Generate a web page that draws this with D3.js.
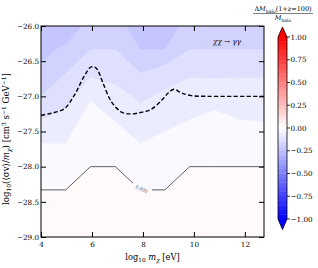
<!DOCTYPE html>
<html>
<head>
<meta charset="utf-8">
<script src="https://cdn.jsdelivr.net/npm/d3@7"></script>
<style>
  body { margin: 0; background: #fff; }
  text { font-family: "DejaVu Serif", serif; fill: #000; }
</style>
</head>
<body>
<svg id="chart" width="318" height="268"></svg>
<script>
// grid columns: log10 m_chi [eV]
const massGrid = [4, 4.97, 5.94, 6.92, 7.89, 8.86, 9.83, 10.81, 11.78, 12.75];
// grid rows: log10(<sigma v>/m_chi)
const sigmaGrid = [-29, -28.67, -28.33, -28, -27.67, -27.33, -27, -26.67, -26.33, -26];
// Delta M_halo / M_halo on the grid, one array per row (bottom row first)
const haloRatio = [
  [0.02, 0.02, 0.02, 0.02, 0.02, 0.02, 0.02, 0.02, 0.02, 0.02],
  [0.02, 0.02, 0.02, 0.02, 0.02, 0.02, 0.02, 0.02, 0.02, 0.02],
  [0, 0, 0.01, 0.01, 0, 0, 0.01, 0.01, 0.01, 0.01],
  [-0.025, -0.025, 0, 0, -0.025, -0.025, 0, 0, 0, 0],
  [-0.05, -0.05, -0.015, -0.025, -0.05, -0.04, -0.025, -0.02, -0.025, -0.025],
  [-0.1, -0.075, -0.03, -0.0525, -0.08, -0.06, -0.05, -0.04, -0.05, -0.0525],
  [-0.15, -0.125, -0.055, -0.08, -0.11, -0.09, -0.09, -0.065, -0.09, -0.09],
  [-0.19, -0.15, -0.11, -0.12, -0.15, -0.125, -0.1025, -0.11, -0.1025, -0.1025],
  [-0.215, -0.19, -0.15, -0.15, -0.2, -0.2, -0.15, -0.15, -0.15, -0.15],
  [-0.23, -0.24, -0.18, -0.185, -0.22, -0.215, -0.19, -0.175, -0.175, -0.175]
];
// filled contour levels that show up in the map
const fillLevels = [-0.2, -0.15, -0.1, -0.05, 0];
const levelStep = 0.05;

// dashed constraint curve
const limitMass = [4, 4.4, 4.9, 5.3, 5.7, 5.97, 6.17, 6.42, 6.75, 7.14, 7.5, 7.9, 8.3, 8.75, 9.0, 9.22, 9.5, 9.9, 10.5, 11.5, 12.75];
const limitSigma = [-27.27, -27.24, -27.18, -26.99, -26.71, -26.58, -26.6, -26.8, -27.07, -27.22, -27.25, -27.23, -27.19, -27.05, -26.95, -26.9, -26.95, -26.99, -27.0, -27.0, -27.0];

const xTicks = [4, 6, 8, 10, 12];
const yTicks = [-29, -28.5, -28, -27.5, -27, -26.5, -26];
const cbTicks = [-1, -0.75, -0.5, -0.25, 0, 0.25, 0.5, 0.75, 1];

// matplotlib bwr colormap
function bwr(v) {
  const t = Math.max(0, Math.min(1, (v + 1) / 2));
  let r, g, b;
  if (t < 0.5) { r = g = 2 * t; b = 1; }
  else { r = 1; g = b = 2 * (1 - t); }
  return d3.rgb(r * 255, g * 255, b * 255).toString();
}

const svg = d3.select("#chart");
const plot = {left: 41, top: 26, right: 264, bottom: 237};

const x = d3.scaleLinear().domain([4, 12.75]).range([plot.left, plot.right]);
const y = d3.scaleLinear().domain([-29, -26]).range([plot.bottom, plot.top]);

svg.append("defs").append("clipPath").attr("id", "clip")
  .append("rect")
  .attr("x", plot.left).attr("y", plot.top)
  .attr("width", plot.right - plot.left).attr("height", plot.bottom - plot.top);

// contours on the grid
const nx = massGrid.length, ny = sigmaGrid.length;
const values = haloRatio.flat();
const colIdx = d3.scaleLinear().domain(d3.range(nx)).range(massGrid);
const rowIdx = d3.scaleLinear().domain(d3.range(ny)).range(sigmaGrid);
const proj = d3.geoTransform({
  point(px, py) { this.stream.point(x(colIdx(px - 0.5)), y(rowIdx(py - 0.5))); }
});
const path = d3.geoPath(proj);
const bands = d3.contours().size([nx, ny]).thresholds(fillLevels)(values);

const g = svg.append("g").attr("clip-path", "url(#clip)");

g.append("rect")
  .attr("x", plot.left).attr("y", plot.top)
  .attr("width", plot.right - plot.left).attr("height", plot.bottom - plot.top)
  .attr("fill", bwr(fillLevels[0] - levelStep / 2));

g.selectAll("path.band")
  .data(bands)
  .enter()
  .append("path")
  .attr("class", "band")
  .attr("d", path)
  .attr("fill", d => bwr(d.value + levelStep / 2))
  .attr("stroke", d => bwr(d.value + levelStep / 2))
  .attr("stroke-width", 0.3);

// zero contour line, with a gap for its label
const mask = svg.select("defs").append("mask").attr("id", "labelgap");
mask.append("rect").attr("x", 0).attr("y", 0).attr("width", 318).attr("height", 268).attr("fill", "#fff");
mask.append("rect")
  .attr("x", -10).attr("y", -3).attr("width", 20).attr("height", 6)
  .attr("transform", "translate(142,188) rotate(25)")
  .attr("fill", "#000");

const zeroLine = bands.find(d => d.value === 0);
g.append("path")
  .attr("d", path(zeroLine))
  .attr("fill", "none")
  .attr("stroke", "#3a3a3a")
  .attr("stroke-width", 0.8)
  .attr("mask", "url(#labelgap)");

g.append("text")
  .attr("transform", "translate(141.5,189) rotate(25)")
  .attr("text-anchor", "middle")
  .attr("dy", "0.35em")
  .style("font-size", "4.5px")
  .style("fill", "#444")
  .text("0.000");

// dashed constraint
const line = d3.line()
  .x((d, i) => x(limitMass[i]))
  .y(d => y(d))
  .curve(d3.curveCatmullRom.alpha(0.5));

g.append("path")
  .attr("d", line(limitSigma))
  .attr("fill", "none")
  .attr("stroke", "#000")
  .attr("stroke-width", 1.4)
  .attr("stroke-dasharray", "4.2,2.3");

// axes, ticks pointing inward on all sides
function styleAxis(sel) {
  sel.select(".domain").remove();
  sel.selectAll(".tick line").attr("stroke", "#000").attr("stroke-width", 1);
  sel.selectAll(".tick text")
    .style("font-family", '"DejaVu Serif", serif')
    .style("font-size", "7.2px")
    .attr("fill", "#000");
}

svg.append("g")
  .attr("transform", `translate(0,${plot.bottom})`)
  .call(d3.axisBottom(x).tickValues(xTicks).tickSize(-5).tickPadding(4.5).tickFormat(d3.format("d")))
  .call(styleAxis);

svg.append("g")
  .attr("transform", `translate(0,${plot.top})`)
  .call(d3.axisTop(x).tickValues(xTicks).tickSize(-5).tickFormat(""))
  .call(styleAxis);

svg.append("g")
  .attr("transform", `translate(${plot.left},0)`)
  .call(d3.axisLeft(y).tickValues(yTicks).tickSize(-5).tickPadding(2).tickFormat(d3.format(".1f")))
  .call(styleAxis);

svg.append("g")
  .attr("transform", `translate(${plot.right},0)`)
  .call(d3.axisRight(y).tickValues(yTicks).tickSize(-5).tickFormat(""))
  .call(styleAxis);

svg.append("rect")
  .attr("x", plot.left).attr("y", plot.top)
  .attr("width", plot.right - plot.left).attr("height", plot.bottom - plot.top)
  .attr("fill", "none").attr("stroke", "#000").attr("stroke-width", 1);

// axis labels
const xl = svg.append("text")
  .attr("x", (plot.left + plot.right) / 2).attr("y", 260)
  .attr("text-anchor", "middle")
  .style("font-size", "8.3px");
xl.append("tspan").text("log");
xl.append("tspan").attr("dy", 2).style("font-size", "5.8px").text("10");
xl.append("tspan").attr("dy", -2).style("font-style", "italic").text(" m");
xl.append("tspan").attr("dy", 2).style("font-size", "5.8px").style("font-style", "italic").text("χ");
xl.append("tspan").attr("dy", -2).text(" [eV]");

const yl = svg.append("text")
  .attr("transform", "translate(8.5,139) rotate(-90)")
  .attr("text-anchor", "middle")
  .style("font-size", "8.6px");
yl.append("tspan").text("log");
yl.append("tspan").attr("dy", 2).style("font-size", "6px").text("10");
yl.append("tspan").attr("dy", -2).text("(⟨σv⟩/");
yl.append("tspan").style("font-style", "italic").text("m");
yl.append("tspan").attr("dy", 2).style("font-size", "6px").style("font-style", "italic").text("χ");
yl.append("tspan").attr("dy", -2).text(") [cm");
yl.append("tspan").attr("dy", -3).style("font-size", "6px").text("3");
yl.append("tspan").attr("dy", 3).text(" s");
yl.append("tspan").attr("dy", -3).style("font-size", "6px").text("−1");
yl.append("tspan").attr("dy", 3).text(" GeV");
yl.append("tspan").attr("dy", -3).style("font-size", "6px").text("−1");
yl.append("tspan").attr("dy", 3).text("]");

// process annotation
svg.append("text")
  .attr("x", 241).attr("y", 44)
  .attr("text-anchor", "end")
  .style("font-size", "7.2px")
  .style("font-style", "italic")
  .text("χχ → γγ");

// colorbar
const cb = {x: 278, w: 9};
const cbY = d3.scaleLinear().domain([-1, 1]).range([219, 37]);
const cbLevels = d3.range(-1, 1 - 1e-9, levelStep);

svg.append("g").selectAll("rect")
  .data(cbLevels)
  .enter()
  .append("rect")
  .attr("x", cb.x)
  .attr("y", d => cbY(d + levelStep) - 0.2)
  .attr("width", cb.w)
  .attr("height", d => cbY(d) - cbY(d + levelStep) + 0.4)
  .attr("fill", d => bwr(d + levelStep / 2));

const cx = cb.x + cb.w / 2;
svg.append("path")
  .attr("d", `M${cb.x},${cbY(1)}L${cx},27L${cb.x + cb.w},${cbY(1)}Z`)
  .attr("fill", bwr(1));
svg.append("path")
  .attr("d", `M${cb.x},${cbY(-1)}L${cx},229.5L${cb.x + cb.w},${cbY(-1)}Z`)
  .attr("fill", bwr(-1));
svg.append("path")
  .attr("d", `M${cb.x},${cbY(1)}L${cx},27L${cb.x + cb.w},${cbY(1)}L${cb.x + cb.w},${cbY(-1)}L${cx},229.5L${cb.x},${cbY(-1)}Z`)
  .attr("fill", "none").attr("stroke", "#000").attr("stroke-width", 0.8);

const cbt = svg.append("g").selectAll("g")
  .data(cbTicks)
  .enter()
  .append("g")
  .attr("transform", d => `translate(${cb.x + cb.w},${cbY(d)})`);
cbt.append("line").attr("x1", 0).attr("x2", 3).attr("stroke", "#000").attr("stroke-width", 0.8);
cbt.append("text")
  .attr("x", 3.5).attr("dy", "0.35em")
  .style("font-size", "7.2px")
  .text(d => d3.format(".2f")(d));

// colorbar title (fraction)
const num = svg.append("text")
  .attr("x", 283).attr("y", 11)
  .attr("text-anchor", "middle")
  .style("font-size", "6.5px");
num.append("tspan").text("Δ");
num.append("tspan").style("font-style", "italic").text("M");
num.append("tspan").attr("dy", 1.5).style("font-size", "4.6px").text("halo");
num.append("tspan").attr("dy", -1.5).text("(1+");
num.append("tspan").style("font-style", "italic").text("z");
num.append("tspan").text("=100)");

svg.append("line")
  .attr("x1", 253).attr("x2", 313).attr("y1", 13.5).attr("y2", 13.5)
  .attr("stroke", "#000").attr("stroke-width", 0.5);

const den = svg.append("text")
  .attr("x", 283).attr("y", 20)
  .attr("text-anchor", "middle")
  .style("font-size", "6.5px");
den.append("tspan").style("font-style", "italic").text("M");
den.append("tspan").attr("dy", 1.5).style("font-size", "4.6px").text("halo");
</script>
</body>
</html>
